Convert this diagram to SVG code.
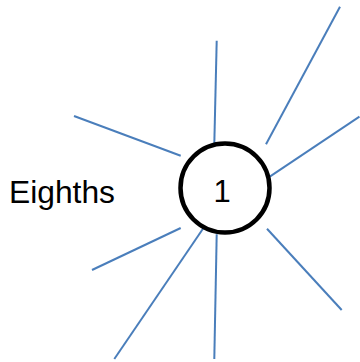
<svg xmlns="http://www.w3.org/2000/svg" width="360" height="362" viewBox="0 0 360 362">
<style>
.ray{stroke:#4a7ebb;stroke-width:2;fill:none;stroke-linecap:butt}
.lbl{font-family:"Liberation Sans",Arial,sans-serif;font-size:31px;fill:#000}
</style>
<rect width="360" height="362" fill="#fff"/>
<g id="connectors">
<line class="ray" x1="216.7" y1="40.7" x2="214.3" y2="144"/>
<line class="ray" x1="74" y1="116" x2="180.7" y2="155.7"/>
<line class="ray" x1="340" y1="6.7" x2="266" y2="144.3"/>
<line class="ray" x1="359.5" y1="116.7" x2="268.3" y2="177.7"/>
<line class="ray" x1="180.7" y1="228" x2="92" y2="270"/>
<line class="ray" x1="203.3" y1="228.3" x2="114.3" y2="359"/>
<line class="ray" x1="216.7" y1="234.3" x2="214.3" y2="359"/>
<line class="ray" x1="267" y1="228.7" x2="341.7" y2="310"/>
</g>
<g id="node1">
<circle cx="225" cy="188" r="44.5" fill="#fff" stroke="#000" stroke-width="4.5"/>
<text class="lbl" x="222" y="202" text-anchor="middle">1</text>
</g>
<g id="label-eighths">
<text class="lbl" x="9" y="202.5" textLength="106" lengthAdjust="spacingAndGlyphs">Eighths</text>
</g>
</svg>
